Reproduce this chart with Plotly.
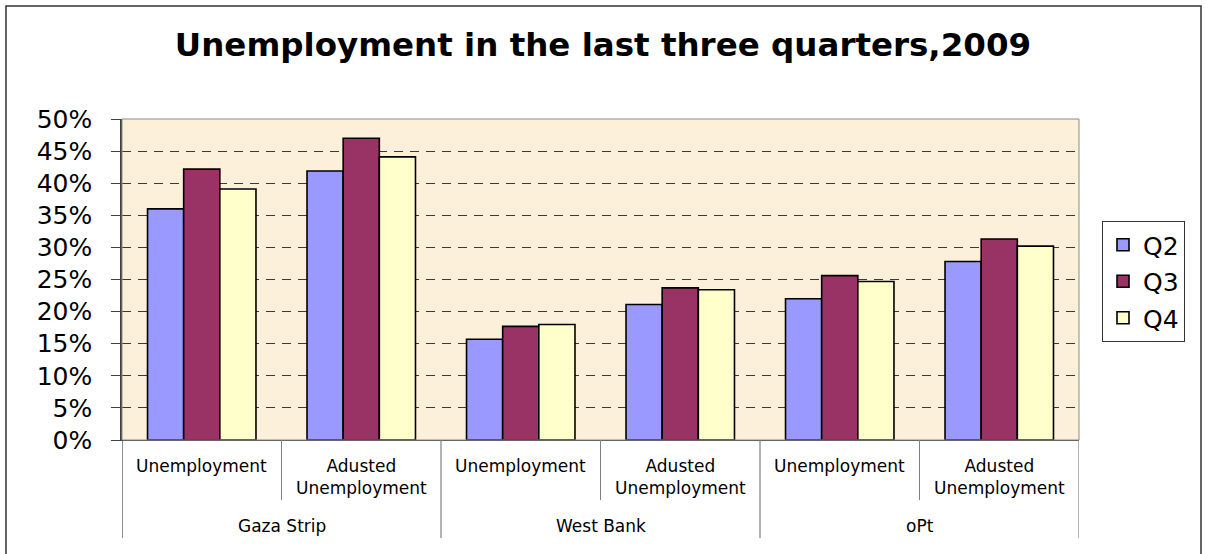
import plotly.graph_objects as go

# ---- data ----
groups = ["Gaza Strip", "West Bank", "oPt"]
measures = ["Unemployment", "Adusted<br>Unemployment"]
series_names = ["Q2", "Q3", "Q4"]
q2 = [0.360, 0.419, 0.157, 0.211, 0.220, 0.278]
q3 = [0.422, 0.470, 0.177, 0.237, 0.256, 0.313]
q4 = [0.391, 0.441, 0.180, 0.234, 0.247, 0.302]
y_ticks = [0, 0.05, 0.10, 0.15, 0.20, 0.25, 0.30, 0.35, 0.40, 0.45, 0.50]
title_text = "Unemployment in the last three quarters,2009"

colors = ["#9999FF", "#993366", "#FFFFCC"]
FONT = "DejaVu Sans"

W, H = 1206, 554
L, R, T, B = 122, 1079, 119, 440
pw, ph = R - L, B - T

def py(Y):
    return (B - Y) / ph

def px(X):
    return (X - L) / pw

cats = [f"{g} | {m}" for g in groups for m in measures]

fig = go.Figure()
for name, vals, col in zip(series_names, [q2, q3, q4], colors):
    fig.add_trace(go.Bar(
        x=cats, y=vals, name=name, legendgroup=name,
        marker=dict(color=col, line=dict(color="#000000", width=1.6)),
    ))

shapes = []
# outer chart border
shapes.append(dict(type="rect", xref="paper", yref="paper",
                   x0=px(6), x1=px(1201), y0=py(562), y1=py(6),
                   line=dict(color="#333333", width=1.5), layer="below"))
# plot area border (gray)
shapes.append(dict(type="rect", xref="paper", yref="paper",
                   x0=0, x1=1, y0=0, y1=1,
                   line=dict(color="#8a8a8a", width=1), layer="above"))
# inner dividers between measures
n = len(cats)
for i in range(len(groups)):
    xb = i * len(measures) + 0.5
    shapes.append(dict(type="line", xref="x", yref="paper",
                       x0=xb, x1=xb, y0=0, y1=py(500),
                       line=dict(color="#808080", width=1)))
# group dividers
for i in range(len(groups) + 1):
    xb = i * len(measures) - 0.5
    shapes.append(dict(type="line", xref="x", yref="paper",
                       x0=xb, x1=xb, y0=0, y1=py(538),
                       line=dict(color="#808080" if i > 0 else "#404040", width=1.2)))

annotations = []
for i, c in enumerate(cats):
    m = measures[i % len(measures)]
    annotations.append(dict(x=i, y=py(454), xref="x", yref="paper",
                            text=m, showarrow=False, xanchor="center", yanchor="top",
                            font=dict(family=FONT, size=17, color="#000000")))
for gi, g in enumerate(groups):
    annotations.append(dict(x=gi * len(measures) + 0.5, y=py(526), xref="x", yref="paper",
                            text=g, showarrow=False, xanchor="center", yanchor="middle",
                            font=dict(family=FONT, size=17, color="#000000")))

fig.update_layout(
    width=W, height=H,
    margin=dict(l=L, r=W - R, t=T, b=H - B, pad=0),
    paper_bgcolor="#FFFFFF",
    plot_bgcolor="#FCF0DB",
    barmode="group", bargap=0.32, bargroupgap=0,
    title=dict(text=title_text, x=0.5, xref="container", xanchor="center",
               y=1 - 45 / H, yref="container", yanchor="middle",
               font=dict(family=FONT, size=32.5, color="#000000", weight="bold")),
    xaxis=dict(type="category", showticklabels=False, ticks="", showgrid=False,
               showline=True, linecolor="#404040", linewidth=1.2, zeroline=False,
               range=[-0.5, n - 0.5]),
    yaxis=dict(range=[0, 0.5], tickvals=y_ticks, tickformat=".0%",
               showgrid=True, gridcolor="#3a3a3a", gridwidth=1, griddash="9px,7px",
               showline=True, linecolor="#404040", linewidth=1.5,
               ticks="outside", ticklen=9, tickcolor="#404040", ticklabelstandoff=14,
               zeroline=False,
               tickfont=dict(family=FONT, size=25, color="#000000")),
    legend=dict(x=px(1102), y=py(221), xref="paper", yref="paper",
                xanchor="left", yanchor="top",
                bgcolor="#FFFFFF", bordercolor="#333333", borderwidth=1,
                font=dict(family=FONT, size=25, color="#000000"),
                tracegroupgap=1, itemwidth=30),
    shapes=shapes,
    annotations=annotations,
    showlegend=True,
)

fig.write_html("out.html")
